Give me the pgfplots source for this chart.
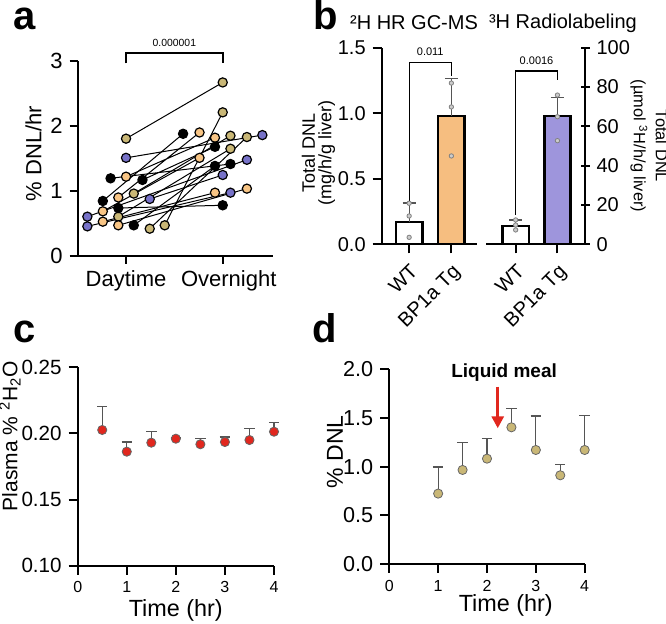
\documentclass[border=0pt]{standalone}
\usepackage{fontspec}
\setmainfont{Liberation Sans}
\usepackage{pgfplots}
\usepackage{pgfplotstable}
\pgfplotsset{compat=1.18}
\usetikzlibrary{arrows.meta}

\definecolor{dnltan}{HTML}{C9B776}
\definecolor{lorange}{HTML}{F8C585}
\definecolor{slate}{HTML}{7772C8}
\definecolor{barorange}{HTML}{F6BE80}
\definecolor{barpurple}{HTML}{9E95DC}
\definecolor{dotred}{HTML}{E1271E}
\definecolor{errgray}{HTML}{555555}

% panel a: paired daytime / overnight values, one table per colour
\pgfplotstableread{
x y
1.00 1.805
2.00 2.67
nan nan
1.40 0.472
2.00 2.21
nan nan
1.08 0.96
2.08 1.85
nan nan
0.92 0.605
2.08 1.65
nan nan
1.245 0.42
2.25 1.83
}\tanpairs
\pgfplotstableread{
x y
1.00 1.51
2.41 1.86
nan nan
0.60 0.605
2.25 1.48
nan nan
0.60 0.456
2.08 0.974
nan nan
1.245 0.877
2.00 1.246
}\bluepairs
\pgfplotstableread{
x y
0.84 1.195
2.08 1.415
nan nan
1.17 1.17
1.92 1.68
nan nan
0.76 0.846
1.59 1.88
nan nan
0.92 0.738
2.00 0.78
nan nan
1.08 0.472
1.92 1.385
}\blackpairs
\pgfplotstableread{
x y
1.00 1.22
1.92 1.82
nan nan
0.92 0.90
1.76 1.90
nan nan
0.76 0.687
1.76 1.51
nan nan
0.76 0.528
1.92 0.974
nan nan
0.92 0.472
2.25 1.036
}\orangepairs

\pgfplotsset{
  gp/.style={scale only axis, anchor=south west,
    axis x line=bottom, axis y line=left,
    axis line style={draw=none},
    tick align=outside, major tick length=4.5pt,
    tick style={black, line width=1pt},
    clip=false, /pgf/number format/assume math mode=true},
  pairline/.style={black, line width=0.5pt, unbounded coords=jump, forget plot},
  pairdot/.style={only marks, mark=*, mark size=2.3pt,
    mark options={fill=#1, draw=black, line width=0.6pt}},
  errs/.style={error bars/.cd, y dir=plus, y explicit,
    error bar style={line width=0.6pt, errgray},
    error mark options={rotate=90, mark size=#1, line width=0.6pt, errgray}},
}
% axis frame as filled strips: x0 y0 x1 y1 (pt)
\newcommand{\lframe}[4]{%
  \fill[black] (#1pt-0.5pt,#2pt-0.5pt) rectangle (#1pt+0.5pt,#4pt);
  \fill[black] (#1pt-0.5pt,#2pt-0.5pt) rectangle (#3pt,#2pt+0.5pt);}
\newcommand{\rframe}[4]{%
  \fill[black] (#3pt-0.5pt,#2pt-0.5pt) rectangle (#3pt+0.5pt,#4pt);
  \fill[black] (#1pt,#2pt-0.5pt) rectangle (#3pt+0.5pt,#2pt+0.5pt);}

\begin{document}
\begin{tikzpicture}
\useasboundingbox (0,0) rectangle (333pt,312pt);

% ---------- a ----------
\begin{axis}[gp, at={(38.85pt,184pt)}, width=97.65pt, height=97.5pt,
  xmin=0.5, xmax=2.52, ymin=0, ymax=3,
  xtick={1,2}, xticklabels={Daytime\hspace{7pt}, \hspace{6pt}Overnight},
  ytick={0,1,2,3}, major tick length=4pt,
  tick label style={font=\fontsize{11}{12}\selectfont}]
\addplot[pairline] table {\tanpairs};
\addplot[pairline] table {\bluepairs};
\addplot[pairline] table {\blackpairs};
\addplot[pairline] table {\orangepairs};
\addplot[pairdot=dnltan] table {\tanpairs};
\addplot[pairdot=slate] table {\bluepairs};
\addplot[pairdot=lorange] table {\orangepairs};
\addplot[pairdot=black] table {\blackpairs};
\draw[line width=0.8pt] (axis cs:1,2.965) -- (axis cs:1,3.12) -- (axis cs:2,3.12) -- (axis cs:2,2.965);
\node[font=\fontsize{5.2}{6}\selectfont] at (axis cs:1.5,3.28) {0.000001};
\end{axis}
\node[rotate=90, font=\fontsize{11}{12}\selectfont] at (16.75pt,235.25pt) {\% DNL/hr};

% ---------- b (left, 2H) ----------
\begin{axis}[gp, at={(190.85pt,189.85pt)}, width=47.5pt, height=98.3pt,
  xmin=0.35, xmax=2.6, ymin=0, ymax=1.5,
  ytick={0,0.5,1,1.5},
  yticklabel style={/pgf/number format/fixed, /pgf/number format/fixed zerofill,
    /pgf/number format/precision=1},
  xtick={1,2}, xticklabels={WT, BP1a Tg},
  xticklabel style={rotate=45, anchor=north east},
  tick label style={font=\fontsize{10}{11}\selectfont}]
\addplot[ybar, bar width=0.625, fill=white, draw=black, line width=1.2pt, errs=3.3pt]
  coordinates {(1,0.168) +- (0,0.147)};
\addplot[ybar, bar width=0.625, fill=barorange, draw=black, line width=1.2pt, errs=3.3pt]
  coordinates {(2,0.977) +- (0,0.287)};
\addplot[only marks, mark=*, mark size=1.1pt, mark options={fill=black!20, draw=black!50, line width=0.4pt}]
  coordinates {(1,0.313) (1,0.216) (1,0.053) (2,1.23) (2,1.048) (2,0.674)};
\draw[line width=0.6pt] (axis cs:1,0.33) -- (axis cs:1,1.386) -- (axis cs:2,1.386) -- (axis cs:2,1.284);
\node[font=\fontsize{5.5}{6}\selectfont] at (axis cs:1.5,1.47) {0.011};
\end{axis}

% ---------- b (right, 3H) ----------
\begin{axis}[gp, axis y line=right, axis line style={draw=none},
  at={(243pt,189.85pt)}, width=49.5pt, height=98.3pt,
  xmin=0.29, xmax=2.66, ymin=0, ymax=100,
  ytick={0,20,...,100},
  xtick={1,2}, xticklabels={WT, BP1a Tg},
  xticklabel style={rotate=45, anchor=north east},
  tick label style={font=\fontsize{10}{11}\selectfont}]
\addplot[ybar, bar width=0.625, fill=white, draw=black, line width=1.2pt, errs=3.3pt]
  coordinates {(1,9.15) +- (0,3.25)};
\addplot[ybar, bar width=0.625, fill=barpurple, draw=black, line width=1.2pt, errs=3.3pt]
  coordinates {(2,65.1) +- (0,9.6)};
\addplot[only marks, mark=*, mark size=1.1pt, mark options={fill=black!20, draw=black!50, line width=0.4pt}]
  coordinates {(1,12.4) (1,9.8) (1,7.3) (2,75.9) (2,64.9) (2,52.7)};
\draw[line width=0.6pt] (axis cs:1,14.9) -- (axis cs:1,88.1) -- (axis cs:2,88.1) -- (axis cs:2,83.6);
\node[font=\fontsize{5.5}{6}\selectfont] at (axis cs:1.5,93.2) {0.0016};
\end{axis}
\node[font=\fontsize{10}{11}\selectfont] at (207pt,300.5pt) {²H HR GC-MS};
\node[font=\fontsize{10}{11}\selectfont] at (281.5pt,300.5pt) {³H Radiolabeling};
\node[rotate=90, align=center, font=\fontsize{9}{8.3}\selectfont] at (159.2pt,235.5pt) {Total DNL\\(mg/h/g liver)};
\node[rotate=-90, align=center, font=\fontsize{8.2}{11}\selectfont] at (324.5pt,239pt) {Total DNL\\(µmol \textsuperscript{3}H/h/g liver)};

% ---------- c ----------
\begin{axis}[gp, at={(38.85pt,29.15pt)}, width=98.15pt, height=99.2pt,
  xmin=0, xmax=4, ymin=0.1, ymax=0.25,
  xtick={0,1,2,3,4}, ytick={0.1,0.15,0.2,0.25},
  yticklabel style={/pgf/number format/fixed, /pgf/number format/fixed zerofill,
    /pgf/number format/precision=2, font=\fontsize{10.3}{11}\selectfont},
  xticklabel style={font=\fontsize{8}{9}\selectfont}]
\addplot[only marks, mark=*, mark size=2.3pt,
  mark options={fill=dotred, draw=black!60, line width=0.4pt}, errs=2.6pt]
  table[x index=0, y index=1, y error index=2] {
0.5 0.2026 0.0177
1.0 0.1862 0.0073
1.5 0.1930 0.0086
2.0 0.1960 0.0005
2.5 0.1918 0.0045
3.0 0.1935 0.0038
3.5 0.1950 0.0089
4.0 0.2013 0.0071
};
\end{axis}
\node[rotate=90, font=\fontsize{10.5}{12}\selectfont] at (5pt,94pt) {Plasma \% \textsuperscript{2}H\textsubscript{2}O};
\node[font=\fontsize{11.7}{13}\selectfont] at (87.9pt,7pt) {Time (hr)};

% ---------- d ----------
\begin{axis}[gp, at={(194.65pt,30pt)}, width=97.7pt, height=97.35pt,
  xmin=0, xmax=4, ymin=0, ymax=2,
  xtick={0,1,2,3,4}, ytick={0,0.5,1,1.5,2},
  yticklabel style={/pgf/number format/fixed, /pgf/number format/fixed zerofill,
    /pgf/number format/precision=1, font=\fontsize{10.8}{12}\selectfont},
  xticklabel style={font=\fontsize{8}{9}\selectfont}]
\addplot[only marks, mark=*, mark size=2.3pt,
  mark options={fill=dnltan, draw=black!60, line width=0.4pt}, errs=2.6pt]
  table[x index=0, y index=1, y error index=2] {
1.0 0.723 0.274
1.5 0.966 0.281
2.0 1.082 0.209
2.5 1.404 0.196
3.0 1.171 0.350
3.5 0.911 0.110
4.0 1.171 0.356
};
\draw[dotred, line width=1.5pt, -{Triangle[width=6pt,length=6pt]}] (axis cs:2.22,1.822) -- (axis cs:2.22,1.394);
\node[font=\fontsize{9.5}{11}\selectfont\bfseries] at (axis cs:2.35,1.97) {Liquid meal};
\end{axis}
\node[rotate=90, font=\fontsize{11.5}{13}\selectfont] at (167.5pt,86pt) {\% DNL};
\node[font=\fontsize{11.7}{13}\selectfont] at (252.9pt,9.5pt) {Time (hr)};

% axis frames
\lframe{38.85}{184}{136.5}{281.5}
\lframe{190.85}{189.85}{238.35}{288.15}
\rframe{243}{189.85}{292.5}{288.15}
\lframe{38.85}{29.15}{137}{128.35}
\lframe{194.65}{30}{292.35}{127.35}

% panel letters
\node[anchor=base west, inner sep=0pt, font=\fontsize{20}{22}\selectfont\bfseries] at (6.5pt,297pt) {a};
\node[anchor=base west, inner sep=0pt, font=\fontsize{20}{22}\selectfont\bfseries] at (156.5pt,297pt) {b};
\node[anchor=base west, inner sep=0pt, font=\fontsize{20}{22}\selectfont\bfseries] at (6.5pt,140.5pt) {c};
\node[anchor=base west, inner sep=0pt, font=\fontsize{20}{22}\selectfont\bfseries] at (156pt,140.5pt) {d};
\end{tikzpicture}
\end{document}
